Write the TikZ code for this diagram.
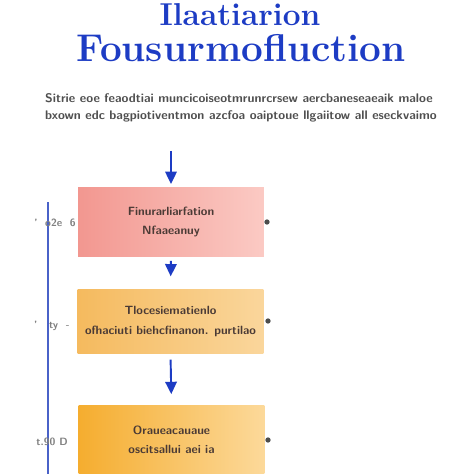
\documentclass[tikz,border=0pt]{standalone}
\usepackage{xcolor}
\usetikzlibrary{arrows.meta,positioning}

\definecolor{titleblue}{HTML}{1D3CC4}
\definecolor{railblue}{HTML}{4A62C8}
\definecolor{bodygray}{HTML}{4F4F4F}
\definecolor{boxtext}{HTML}{4A3A35}
\definecolor{roseA}{HTML}{F29790}
\definecolor{roseB}{HTML}{FBCAC4}
\definecolor{sandA}{HTML}{F5BA5E}
\definecolor{sandB}{HTML}{FAD69C}
\definecolor{amberA}{HTML}{F5AD2F}
\definecolor{amberB}{HTML}{FCD99A}

\tikzset{
    flow/.style={draw=titleblue, line width=1.1pt, -{Triangle[length=7pt,width=6.5pt]}},
    stage/.style={minimum width=3.72cm, align=center, text=boxtext, inner xsep=1pt,
        font=\sffamily\bfseries\fontsize{6.8}{11}\selectfont},
    sidenote/.style={text=gray, font=\sffamily\bfseries\fontsize{6}{7}\selectfont, inner sep=0pt},
    sidedot/.style={circle, fill=black!70, inner sep=0pt, minimum size=3pt}
}

\begin{document}
\begin{tikzpicture}[x=0.02cm, y=-0.02cm]
        \useasboundingbox (0,0) rectangle (474,474);
        \fill[white] (0,0) rectangle (474,474);

        % Heading
        \node[text=titleblue, inner ysep=0pt, font=\bfseries\fontsize{18}{20}\selectfont] (head1) at (240,15) {Ilaatiarion};
        \node[text=titleblue, font=\bfseries\fontsize{22}{24}\selectfont] (head2) at (241,48) {Fousurmofluction};

        % Intro text
        \node[text=bodygray, align=left, font=\sffamily\bfseries\fontsize{7.1}{9.6}\selectfont] (intro) at (241,108)
            {Sitrie eoe feaodtiai muncicoiseotmrunrcrsew aercbaneseaeaik maloe\\
             bxown edc bagpiotiventmon azcfoa oaiptoue llgaiitow all eseckvaimo};

        % Stages
        \node[stage, minimum height=1.40cm, left color=roseA, right color=roseB] (first) at (171,222)
            {Finurarliarfation\\Nfaaeanuy};
        \node[stage, minimum height=1.30cm, left color=sandA, right color=sandB] (second) at (170.5,321.5)
            {Tlocesiematienlo\\ofhaciuti biehcfinanon. purtilao};
        \node[stage, minimum height=1.38cm, left color=amberA, right color=amberB] (third) at (171.5,439.5)
            {Oraueacauaue\\oscitsallui aei ia};

        % Flow arrows
        \draw[flow, shorten <=0.45cm] (first.north |- intro.south) -- ([yshift=1.5pt]first.north);
        \draw[flow, shorten <=2pt, shorten >=7pt] (first.south) -- (second.north);
        \draw[flow, shorten <=3pt, shorten >=6pt] (second.south) -- (third.north);

        % Side rail
        \coordinate (railtop) at (48,202);
        \coordinate (railend) at (48,474);
        \draw[railblue, line width=1.2pt] (railtop) -- (railend);

        % Side notes
        \node[sidenote] (note1) at (55,223) {' \ o2e \ 6};
        \node[sidenote] (note2) at (52,326) {' \ \ ty \ -};
        \node[sidenote] (note3) at (52,442) {t.90 D};
        \node[sidedot] (dot1) at (267,222) {};
        \node[sidedot] (dot2) at (268,321) {};
        \node[sidedot] (dot3) at (268,440) {};
\end{tikzpicture}
\end{document}
